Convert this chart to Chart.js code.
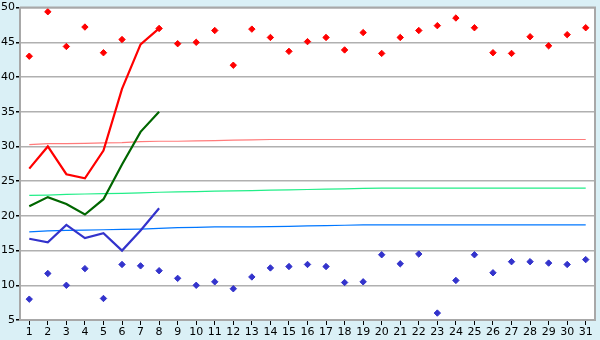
<!DOCTYPE html>
<html>
<head>
<meta charset="utf-8">
<script src="https://cdn.jsdelivr.net/npm/chart.js@4/dist/chart.umd.min.js"></script>
<style>
  html, body { margin: 0; padding: 0; background: #daf0f6; }
  #wrap { width: 600px; height: 340px; }
</style>
</head>
<body>
<div id="wrap"><canvas id="chart"></canvas></div>
<script>
// days of the month
const days = [];
for (let d = 1; d <= 31; d++) days.push(String(d));

// daily readings (diamonds)
const highPoints = [43.0, 49.4, 44.4, 47.2, 43.5, 45.4, null, 47.0, 44.8, 45.0,
  46.7, 41.7, 46.9, 45.7, 43.7, 45.1, 45.7, 43.9, 46.4, 43.4,
  45.7, 46.7, 47.4, 48.5, 47.1, 43.5, 43.4, 45.8, 44.5, 46.1, 47.1];
const lowPoints = [8.0, 11.7, 10.0, 12.4, 8.1, 13.0, 12.8, 12.1, 11.0, 10.0,
  10.5, 9.5, 11.2, 12.5, 12.7, 13.0, 12.7, 10.4, 10.5, 14.4,
  13.1, 14.5, 6.0, 10.7, 14.4, 11.8, 13.4, 13.4, 13.2, 13.0, 13.7];

// current month lines (first 8 days)
const redLine = [26.8, 30.0, 26.0, 25.4, 29.4, 38.3, 44.7, 47.0];
const greenLine = [21.4, 22.7, 21.7, 20.2, 22.4, 27.4, 32.1, 35.0];
const blueLine = [16.7, 16.2, 18.7, 16.8, 17.5, 15.0, 17.9, 21.1];

// long term averages (thin lines)
const redAvg = [30.25, 30.4, 30.4, 30.45, 30.5, 30.55, 30.7, 30.75, 30.75, 30.8,
  30.85, 30.9, 30.95, 31.0, 31.0, 31.0, 31.0, 31.0, 31.0, 31.0,
  31.0, 31.0, 31.0, 31.0, 31.0, 31.0, 31.0, 31.0, 31.0, 31.0, 31.0];
const greenAvg = [22.95, 23.0, 23.1, 23.15, 23.2, 23.25, 23.3, 23.4, 23.45, 23.5,
  23.55, 23.6, 23.65, 23.7, 23.75, 23.8, 23.85, 23.9, 23.95, 24.0,
  24.0, 24.0, 24.0, 24.0, 24.0, 24.0, 24.0, 24.0, 24.0, 24.0, 24.0];
const blueAvg = [17.7, 17.85, 17.9, 17.95, 18.0, 18.05, 18.1, 18.2, 18.3, 18.35,
  18.4, 18.4, 18.4, 18.45, 18.5, 18.55, 18.6, 18.65, 18.7, 18.7,
  18.7, 18.7, 18.7, 18.7, 18.7, 18.7, 18.7, 18.7, 18.7, 18.7, 18.7];

const yTicks = [5, 10, 15, 20, 25, 30, 35, 40, 45, 50];

// white plot area with a gray frame
const plotFrame = {
  id: 'plotFrame',
  beforeDraw(chart) {
    const a = chart.chartArea, ctx = chart.ctx;
    ctx.save();
    ctx.fillStyle = '#ffffff';
    ctx.fillRect(a.left, a.top, a.right - a.left, a.bottom - a.top);
    ctx.restore();
  },
  afterDraw(chart) {
    const a = chart.chartArea, ctx = chart.ctx;
    ctx.save();
    ctx.strokeStyle = '#a8a8a8';
    ctx.lineWidth = 2;
    ctx.beginPath();
    ctx.moveTo(a.left, a.top);
    ctx.lineTo(a.right, a.top);
    ctx.lineTo(a.right, a.bottom);
    ctx.stroke();
    ctx.restore();
  }
};

function thin(data, color) {
  return { type: 'line', data: data, borderColor: color, borderWidth: 1.2,
    pointRadius: 0, tension: 0, order: 3 };
}
function thick(data, color) {
  return { type: 'line', data: data, borderColor: color, borderWidth: 2.2,
    pointRadius: 0, tension: 0, order: 1 };
}
function dots(data, color) {
  return { type: 'line', data: data, showLine: false, pointStyle: 'rectRot',
    pointRadius: 3.2, pointBackgroundColor: color, pointBorderColor: color,
    pointBorderWidth: 1, order: 2 };
}

new Chart(document.getElementById('chart'), {
  data: {
    labels: days,
    datasets: [
      thick(redLine, '#ff0000'),
      thick(greenLine, '#006600'),
      thick(blueLine, '#3333cc'),
      dots(highPoints, '#ff0000'),
      dots(lowPoints, '#3333cc'),
      thin(redAvg, '#ff7b7b'),
      thin(greenAvg, '#22ee88'),
      thin(blueAvg, '#0077ff')
    ]
  },
  plugins: [plotFrame],
  options: {
    responsive: true,
    maintainAspectRatio: false,
    animation: false,
    layout: { padding: { top: 5, right: 5, left: 0, bottom: 0 } },
    plugins: { legend: { display: false }, tooltip: { enabled: false } },
    scales: {
      x: {
        offset: true,
        afterFit(axis) { axis.height = 20; },
        grid: { drawOnChartArea: false, drawTicks: true, tickLength: 5, tickColor: '#000000' },
        border: { color: '#a8a8a8', width: 2 },
        ticks: { color: '#000000', padding: 1, maxRotation: 0, autoSkip: false,
          font: { family: 'DejaVu Sans', size: 11 } }
      },
      y: {
        min: 5, max: 50,
        afterFit(axis) { axis.width = 20; },
        afterBuildTicks(axis) { axis.ticks = yTicks.map(v => ({ value: v })); },
        grid: { color: '#b0b0b0', lineWidth: 1.5, tickLength: 4, tickColor: '#000000' },
        border: { color: '#a8a8a8', width: 2 },
        ticks: { color: '#000000', padding: 1,
          font: { family: 'DejaVu Sans', size: 11 } }
      }
    }
  }
});
</script>
</body>
</html>
